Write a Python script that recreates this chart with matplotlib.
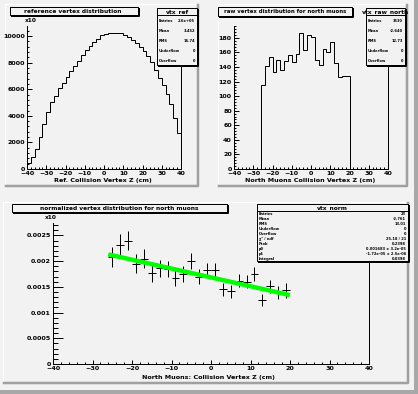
import numpy as np
import matplotlib
matplotlib.use("Agg")
import matplotlib.pyplot as plt
from matplotlib.patches import Rectangle
from matplotlib.ticker import MultipleLocator

W, H = 418, 394
BG = "#f2f2f2"
SHADOW = "#a0a0a0"
PX = 0.72  # one pixel in points at dpi 100

# reference vertex distribution (2 cm bins, -40..40)
ref_edges = np.arange(-40, 42, 2)
ref_counts = [450, 900, 1520, 2420, 3390, 4260, 5010, 5510, 6060, 6510,
              6960, 7360, 7760, 8150, 8580, 8930, 9230, 9530, 9800, 10050,
              10150, 10200, 10250, 10250, 10200, 10100, 9930, 9730, 9480, 9200,
              8850, 8480, 8080, 7430, 6830, 6310, 5610, 4860, 3820, 2690]

# raw vertex distribution for north muons (2 cm bins, -26..20)
north_edges = np.arange(-26, 22, 2)
north_counts = [115, 141, 154, 133, 149, 136, 148, 156, 147, 158, 187, 163,
                184, 181, 149, 143, 165, 161, 174, 145, 126, 128, 128]

# normalized distribution
norm_x = [-25, -23, -21, -19, -17, -15, -13, -11, -9, -7, -5, -3,
          -1, 1, 3, 5, 7, 9, 11, 13, 15, 17, 19]
norm_y = [0.00208, 0.00232, 0.00240, 0.00195, 0.00205, 0.00176, 0.00186,
          0.00185, 0.00168, 0.00175, 0.00200, 0.00170, 0.00183, 0.00183,
          0.00145, 0.00141, 0.00162, 0.00160, 0.00175, 0.00125, 0.00151,
          0.00139, 0.00143]
norm_err = [0.00019, 0.00021, 0.00019, 0.00018, 0.00018, 0.00017, 0.00016,
            0.00016, 0.00016, 0.00015, 0.00016, 0.00015, 0.00014, 0.00014,
            0.00013, 0.00012, 0.00013, 0.00013, 0.00013, 0.00012, 0.00013,
            0.00013, 0.00014]
fit_p0, fit_p1 = 0.001683, -1.72e-05
fit_lo, fit_hi = -26, 20

plt.rcParams['font.family'] = 'DejaVu Sans'
plt.rcParams['font.weight'] = 'bold'

fig = plt.figure(figsize=(W / 100, H / 100), dpi=100, facecolor=BG)

bg = fig.add_axes([0, 0, 1, 1], zorder=0)
ov = fig.add_axes([0, 0, 1, 1], zorder=10)
for a in (bg, ov):
    a.set_xlim(0, W)
    a.set_ylim(H, 0)
    a.axis('off')
ov.patch.set_alpha(0)

# canvas shadow
bg.plot([W - 2, W - 2], [0, H], color="#a8a8a8", lw=4 * PX)
bg.plot([0, W], [H - 2, H - 2], color="#a8a8a8", lw=4 * PX)


def pad(x0, y0, x1, y1):
    bg.plot([x0, x0, x1], [y1, y0, y0], color="white", lw=1 * PX)
    bg.plot([x0 + 1, x1, x1], [y1, y1, y0 + 1], color=SHADOW, lw=2.5 * PX)


def box(x0, y0, x1, y1, fc=BG):
    ov.add_patch(Rectangle((x0, y0), x1 - x0, y1 - y0, fc=fc, ec="black", lw=1 * PX))
    ov.plot([x0 + 1.5, x1 + 1, x1 + 1], [y1 + 1, y1 + 1, y0 + 1.5], color="black", lw=2 * PX)


def frame(l, t, r, b):
    ax = fig.add_axes([l / W, 1 - b / H, (r - l) / W, (b - t) / H], zorder=5)
    ax.patch.set_alpha(0)
    ax.spines['top'].set_visible(False)
    for s in ('left', 'bottom', 'right'):
        ax.spines[s].set_linewidth(1 * PX)
    return ax


def style(ax, xlen, ylen, ymaj, ymin):
    ax.set_xlim(-40, 40)
    ax.xaxis.set_major_locator(MultipleLocator(10))
    ax.xaxis.set_minor_locator(MultipleLocator(2))
    ax.yaxis.set_major_locator(MultipleLocator(ymaj))
    ax.yaxis.set_minor_locator(MultipleLocator(ymin))
    ax.tick_params(which='both', direction='in', width=1 * PX, labelsize=4.6, pad=1.5)
    ax.tick_params(axis='x', which='major', length=xlen * PX)
    ax.tick_params(axis='x', which='minor', length=xlen / 2 * PX)
    ax.tick_params(axis='y', which='major', length=ylen * PX)
    ax.tick_params(axis='y', which='minor', length=ylen / 2 * PX)
    ax.tick_params(top=False, right=False, which='both')


def stats(x0, y0, x1, y1, name, rows, fs):
    box(x0, y0, x1, y1)
    hy = y0 + 7
    ov.plot([x0, x1], [hy, hy], color="black", lw=1 * PX)
    ov.text((x0 + x1) / 2, y0 + 3.7, name, ha='center', va='center', fontsize=4.2)
    step = (y1 - hy) / len(rows)
    for i, (k, v) in enumerate(rows):
        yy = hy + step * (i + 0.55)
        ov.text(x0 + 2, yy, k, ha='left', va='center', fontsize=fs)
        ov.text(x1 - 2, yy, v, ha='right', va='center', fontsize=fs)


# pads
pad(5, 4, 198, 186)
pad(218, 4, 407, 186)
pad(3, 202, 408, 383)

# --- top left: reference
ax1 = frame(27, 26, 181, 169)
ax1.stairs(ref_counts, ref_edges, baseline=0, color="black", lw=1 * PX)
ax1.set_ylim(0, max(ref_counts) * 1.05)
style(ax1, 4.3, 4.6, 2000, 400)
ov.text(25, 20.5, "x10", ha='left', va='center', fontsize=4.2)
box(10, 7, 138, 15)
ov.text(73, 11, "reference vertex distribution", ha='center', va='center', fontsize=4.2)
ov.text(103, 180, "Ref. Collision Vertex Z (cm)", ha='center', va='center', fontsize=4.6)
stats(157, 8, 197, 65, "vtx_ref",
      [("Entries", "2.6e+05"), ("Mean", "3.452"), ("RMS", "16.74"),
       ("Underflow", "0"), ("Overflow", "0")], 2.6)

# --- top right: raw north
ax2 = frame(234, 26, 388, 169)
ax2.stairs(north_counts, north_edges, baseline=0, color="black", lw=1 * PX)
ax2.set_ylim(0, max(north_counts) * 1.05)
style(ax2, 4.3, 4.6, 20, 4)
box(218, 7, 352, 16)
ov.text(285, 11.5, "raw vertex distribution for north muons", ha='center', va='center', fontsize=3.9)
ov.text(310, 180, "North Muons Collision Vertex Z (cm)", ha='center', va='center', fontsize=4.6)
stats(366, 8, 405, 65, "vtx_raw_north",
      [("Entries", "3530"), ("Mean", "-2.640"), ("RMS", "12.73"),
       ("Underflow", "0"), ("Overflow", "0")], 2.6)

# --- bottom: normalized with linear fit
ax3 = frame(53, 223, 369, 364)
ax3.errorbar(norm_x, norm_y, yerr=norm_err, xerr=1, fmt='none', ecolor="black",
             elinewidth=1 * PX, capsize=0)
fx = np.linspace(fit_lo, fit_hi, 50)
ax3.plot(fx, fit_p0 + fit_p1 * fx, color="#00ff00", lw=3.2, solid_capstyle='butt')
ax3.set_ylim(0, (max(norm_y) + max(norm_err)) * 1.05)
style(ax3, 4.3, 9.5, 0.0005, 0.0001)
ax3.yaxis.set_major_formatter(plt.FuncFormatter(lambda v, p: "0" if v == 0 else f"{v:g}"))
ov.text(45, 217, "x10", ha='left', va='center', fontsize=4.2)
box(12, 204, 227, 212)
ov.text(119.5, 208, "normalized vertex distribution for north muons", ha='center', va='center', fontsize=4.2)
ov.text(208, 377, "North Muons: Collision Vertex Z (cm)", ha='center', va='center', fontsize=4.6)
stats(257, 204, 408, 261, "vtx_norm",
      [("Entries", "23"), ("Mean", "-2.761"), ("RMS", "13.01"),
       ("Underflow", "0"), ("Overflow", "0"), ("\u03c7\u00b2 / ndf", "25.18 / 21"),
       ("Prob", "0.2398"), ("p0", "0.001683 \u00b1 3.2e-05"),
       ("p1", "-1.72e-05 \u00b1 2.5e-06"), ("Integral", "0.0398")], 2.6)

fig.savefig("out.png", dpi=100, facecolor=BG)
